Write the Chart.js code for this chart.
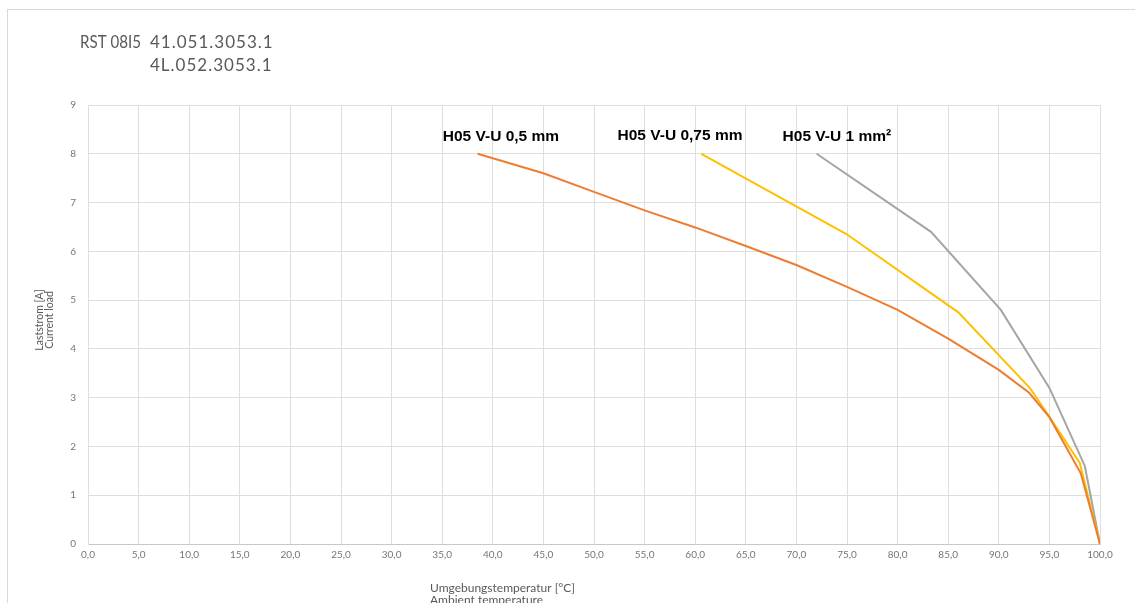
<!DOCTYPE html>
<html>
<head>
<meta charset="utf-8">
<script src="https://cdn.jsdelivr.net/npm/chart.js@4.4.0/dist/chart.umd.min.js"></script>
<style>
html,body{margin:0;padding:0;background:#fff;}
#wrap{position:relative;width:1135px;height:603px;}
</style>
</head>
<body>
<div id="wrap"><canvas id="c" width="1135" height="603"></canvas></div>
<script>
// ---- data ----
const seriesNames = ["H05 V-U 0,5 mm", "H05 V-U 0,75 mm", "H05 V-U 1 mm²"];
const orangeX = [38.5, 45, 50, 55, 60, 65, 70, 75, 80, 85, 90, 93, 95, 98.1, 100];
const orangeY = [8.0, 7.6, 7.22, 6.84, 6.49, 6.11, 5.72, 5.27, 4.80, 4.21, 3.57, 3.1, 2.6, 1.45, 0];
const yellowX = [60.6, 74.9, 86.0, 93.1, 95, 98, 100];
const yellowY = [8.0, 6.36, 4.75, 3.19, 2.61, 1.66, 0];
const greyX = [72.0, 83.3, 90.2, 95.0, 98.5, 100];
const greyY = [8.0, 6.40, 4.80, 3.20, 1.60, 0];
const xTicks = [0,5,10,15,20,25,30,35,40,45,50,55,60,65,70,75,80,85,90,95,100];
const yTicks = [0,1,2,3,4,5,6,7,8,9];
const titleParts = ["RST 08I5", "41.051.3053.1", "4L.052.3053.1"];
const yTitle = ["Laststrom [A]", "Current load"];
const xTitle = ["Umgebungstemperatur [°C]", "Ambient temperature"];

function pts(xs, ys){ return xs.map((x,i)=>({x:x, y:ys[i]})); }

const colors = ["#ED7D31", "#FFC000", "#A5A5A5"];
const sets = [pts(orangeX, orangeY), pts(yellowX, yellowY), pts(greyX, greyY)];

const labelPlugin = {
  id: 'extras',
  afterDraw(chart){
    const ctx = chart.ctx;
    const xs = chart.scales.x, ys = chart.scales.y;
    ctx.save();
    // outer frame
    ctx.strokeStyle = '#d9d9d9';
    ctx.lineWidth = 1;
    ctx.strokeRect(7.5, 9.5, 1300, 800);
    // title
    ctx.fillStyle = '#595959';
    ctx.textBaseline = 'middle';
    ctx.textAlign = 'left';
    ctx.font = '17px Lato, "Open Sans", sans-serif';
    const w = ctx.measureText(titleParts[0]).width;
    ctx.save();
    ctx.translate(80, 43);
    ctx.scale(Math.min(1, 61 / w), 1);
    ctx.fillText(titleParts[0], 0, 0);
    ctx.restore();
    try { ctx.letterSpacing = '1px'; } catch(e) {}
    ctx.fillText(titleParts[1], 150, 43);
    ctx.fillText(titleParts[2], 150, 66);
    try { ctx.letterSpacing = '0px'; } catch(e) {}
    // y title
    ctx.save();
    ctx.translate(40, 320);
    ctx.rotate(-Math.PI/2);
    ctx.textAlign = 'center';
    ctx.font = '10.5px Lato, "Open Sans", sans-serif';
    ctx.fillStyle = '#595959';
    ctx.fillText(yTitle[0], 0, 0);
    ctx.fillText(yTitle[1], 0, 10);
    ctx.restore();
    // x title
    ctx.textAlign = 'left';
    ctx.font = '12px Lato, "Open Sans", sans-serif';
    ctx.fillStyle = '#595959';
    ctx.fillText(xTitle[0], 430, 588);
    ctx.fillText(xTitle[1], 430, 600);
    // series labels
    ctx.fillStyle = '#000';
    ctx.font = 'bold 15.5px "Liberation Sans", Arial, sans-serif';
    ctx.textAlign = 'center';
    const anchors = [[40.8, 8.34], [58.5, 8.38], [74.0, 8.34]];
    anchors.forEach((a,i)=>{
      ctx.fillText(seriesNames[i], xs.getPixelForValue(a[0]), ys.getPixelForValue(a[1]));
    });
    ctx.restore();
  }
};

new Chart(document.getElementById('c'), {
  type: 'scatter',
  data: {
    datasets: sets.map((d,i)=>({
      label: seriesNames[i],
      data: d,
      showLine: true,
      borderColor: colors[i],
      backgroundColor: colors[i],
      borderWidth: 2,
      pointRadius: 0,
      tension: 0
    }))
  },
  options: {
    responsive: false,
    animation: false,
    layout: { padding: { left: 0, top: 105, right: 35, bottom: 0 } },
    plugins: { legend: { display: false }, tooltip: { enabled: false } },
    scales: {
      x: {
        type: 'linear', min: 0, max: 100,
        afterBuildTicks(s){ s.ticks = xTicks.map(v=>({value:v})); },
        afterFit(s){ s.height = 59; },
        grid: { color: '#dedede', drawTicks: false, lineWidth: 1 },
        border: { color: '#c8c8c8', width: 1 },
        ticks: {
          padding: 5, color: '#767676',
          font: { family: 'Lato, "Open Sans", sans-serif', size: 10 },
          maxRotation: 0, autoSkip: false,
          callback: v => v.toFixed(1).replace('.', ',')
        }
      },
      y: {
        type: 'linear', min: 0, max: 9,
        afterBuildTicks(s){ s.ticks = yTicks.map(v=>({value:v})); },
        afterFit(s){ s.width = 88; },
        grid: { color: '#dedede', drawTicks: false, lineWidth: 1 },
        border: { color: '#dedede', width: 1 },
        ticks: {
          padding: 12, color: '#767676',
          font: { family: 'Lato, "Open Sans", sans-serif', size: 10 },
          callback: v => String(v)
        }
      }
    }
  },
  plugins: [labelPlugin]
});
</script>
</body>
</html>
